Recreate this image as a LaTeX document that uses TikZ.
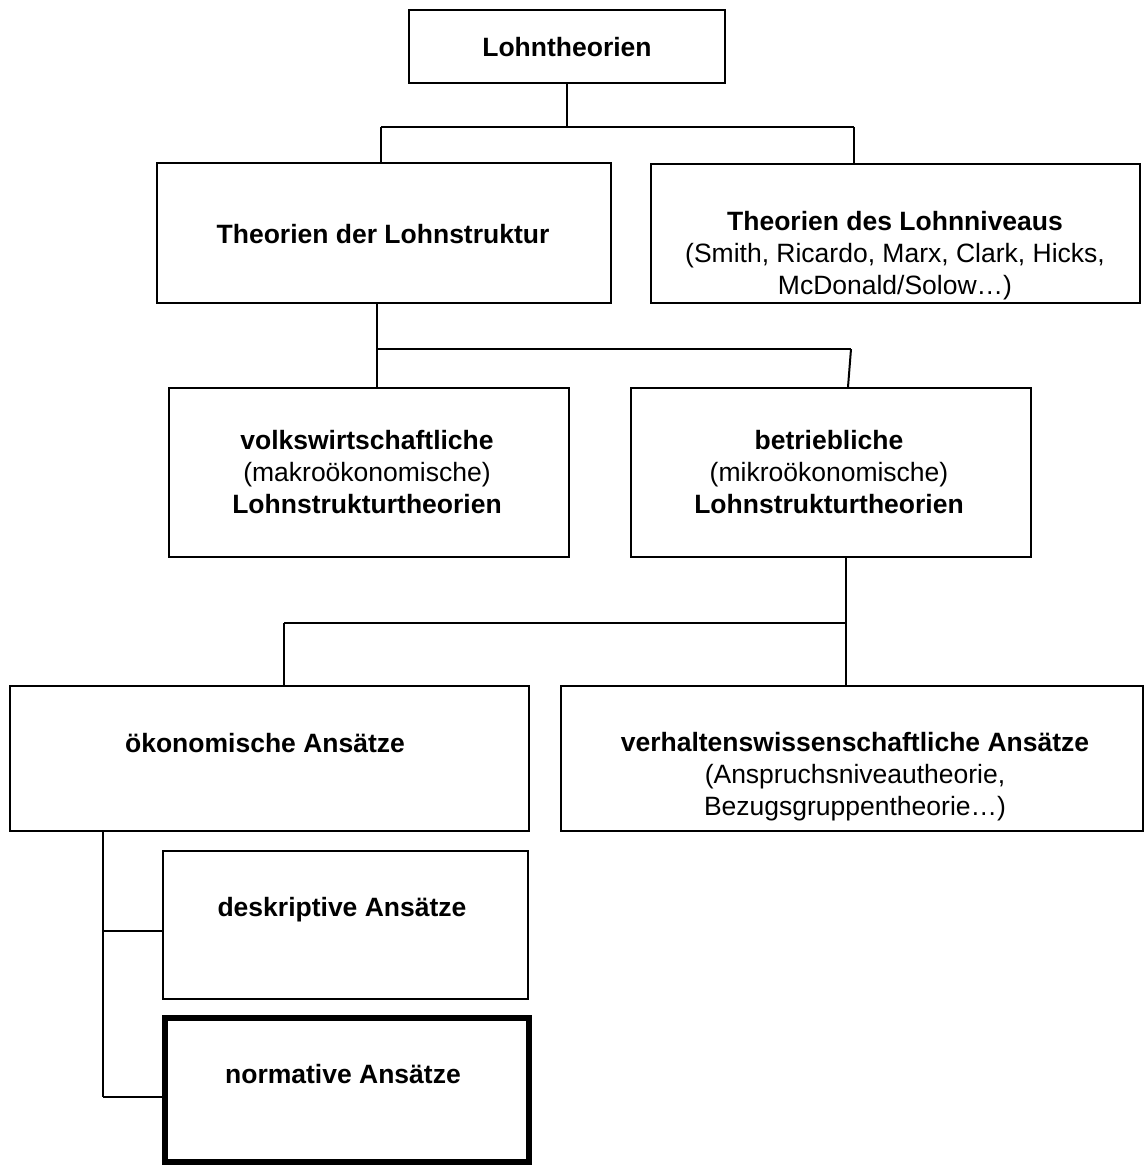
\documentclass[tikz,border=0pt]{standalone}
\usepackage{fontspec}
\setmainfont{Liberation Sans}
\usetikzlibrary{fit}
\begin{document}
\begin{tikzpicture}[x=0.5pt,y=-0.5pt,
  box/.style={draw, line width=1pt, rectangle, inner sep=0pt},
  heavybox/.style={draw, line width=3.25pt, rectangle, inner sep=0pt},
  txt/.style={anchor=base, align=center, inner sep=0pt,
    font=\fontsize{13.25}{16}\selectfont},
  conn/.style={line width=1pt}]
\useasboundingbox (0,0) rectangle (1145,1166);

% boxes
\node[box, fit={(409,10) (725,83)}] (lohn) {};
\node[box, fit={(157,163) (611,303)}] (struk) {};
\node[box, fit={(651,164) (1140,303)}] (niv) {};
\node[box, fit={(169,388) (569,557)}] (volk) {};
\node[box, fit={(631,388) (1031,557)}] (betr) {};
\node[box, fit={(10,686) (529,831)}] (oek) {};
\node[box, fit={(561,686) (1143,831)}] (verh) {};
\node[box, fit={(163,851) (528,999)}] (desk) {};
\node[heavybox, fit={(165,1018) (529,1162)}] (norm) {};

% labels (base anchor = baseline of the last line)
\node[txt] (lohnT) at (567,57) {\textbf{Lohntheorien}};
\node[txt] (strukT) at (383,243) {\textbf{Theorien der Lohnstruktur}};
\node[txt] (nivT) at (895,294) {\textbf{Theorien des Lohnniveaus}\\(Smith, Ricardo, Marx, Clark, Hicks,\\McDonald/Solow…)};
\node[txt] (volkT) at (367,513) {\textbf{volkswirtschaftliche}\\(makroökonomische)\\\textbf{Lohnstrukturtheorien}};
\node[txt] (betrT) at (829,513) {\textbf{betriebliche}\\(mikroökonomische)\\\textbf{Lohnstrukturtheorien}};
\node[txt] (oekT) at (265,752) {\textbf{ökonomische Ansätze}};
\node[txt] (verhT) at (855,815) {\textbf{verhaltenswissenschaftliche Ansätze}\\(Anspruchsniveautheorie,\\Bezugsgruppentheorie…)};
\node[txt] (deskT) at (342,916) {\textbf{deskriptive Ansätze}};
\node[txt] (normT) at (343,1083) {\textbf{normative Ansätze}};

% junction points
\coordinate (a1) at (567,127);
\coordinate (a2) at (381,127);
\coordinate (a3) at (854,127);
\coordinate (b1) at (377,349);
\coordinate (b2) at (851,349);
\coordinate (c1) at (846,623);
\coordinate (c2) at (284,623);
\coordinate (d1) at (103,931);
\coordinate (d2) at (103,1097);

% connectors
\draw[conn] (lohn.south) -- (a1);
\draw[conn] (a2) -- (a3);
\draw[conn] (a2) -- (a2 |- struk.north);
\draw[conn] (a3) -- (a3 |- niv.north);

\draw[conn] (b1 |- struk.south) -- (b1 |- volk.north);
\draw[conn] (b1) -- (b2);
\draw[conn] (b2) -- ([xshift=-1.5pt]b2 |- betr.north);

\draw[conn] (c1 |- betr.south) -- (c1 |- verh.north);
\draw[conn] (c2) -- (c1);
\draw[conn] (c2) -- (c2 |- oek.north);

\draw[conn] (d1 |- oek.south) -- (d2);
\draw[conn] (d1) -- (d1 -| desk.west);
\draw[conn] (d2) -- (d2 -| norm.west);
\end{tikzpicture}
\end{document}
